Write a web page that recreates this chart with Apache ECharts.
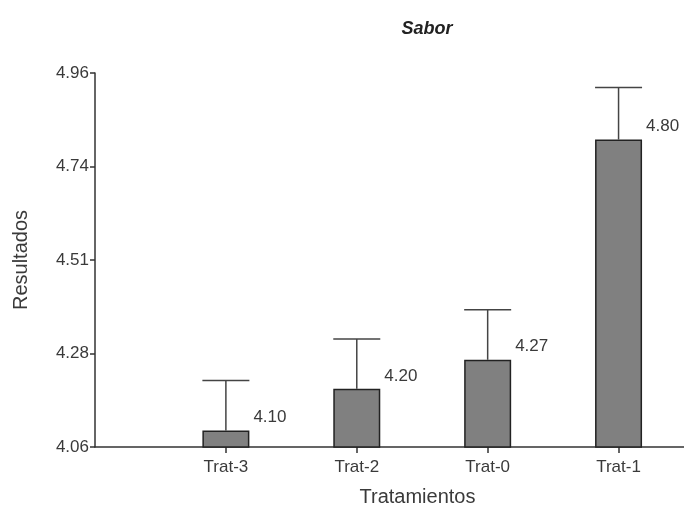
<!DOCTYPE html>
<html>
<head>
<meta charset="utf-8">
<script src="https://cdn.jsdelivr.net/npm/echarts@6/dist/echarts.min.js"></script>
<style>
  html, body { margin: 0; padding: 0; background: #fff; }
  #chart { width: 684px; height: 506px; }
</style>
</head>
<body>
<div id="chart"></div>
<script>
// Mean "Sabor" score per treatment, with the error-bar half-length above each bar
const categories = ['Trat-3', 'Trat-2', 'Trat-0', 'Trat-1'];
const means = [4.10, 4.20, 4.27, 4.80];
const errors = [0.12, 0.12, 0.12, 0.125];
const yTickValues = [4.06, 4.285, 4.51, 4.735, 4.96];
const yTickLabels = ['4.06', '4.28', '4.51', '4.74', '4.96'];

const FONT = '"Liberation Sans", Arial, sans-serif';
const TEXT = '#3a3a3a';
const BAR_W = 47;

const chart = echarts.init(document.getElementById('chart'), null, { renderer: 'canvas' });

const barData = means.map((v, i) => [i, v]);
const errData = means.map((v, i) => [i, v, v + errors[i]]);

chart.setOption({
  animation: false,
  title: {
    text: 'Sabor',
    left: 422, top: 15,
    textAlign: 'center',
    textStyle: { fontFamily: FONT, fontSize: 18, fontWeight: 'bold', fontStyle: 'italic', color: '#222' }
  },
  grid: { left: 95, right: 0, top: 73, bottom: 59, containLabel: false, outerBoundsMode: 'none' },
  xAxis: {
    type: 'value',
    min: -1, max: 3.5,
    name: 'Tratamientos',
    nameLocation: 'middle',
    nameGap: 40,
    nameTextStyle: { fontFamily: FONT, fontSize: 20, color: TEXT, padding: [0, 0, 0, 56] },
    splitLine: { show: false },
    axisLine: { show: true, onZero: false, lineStyle: { color: '#333', width: 1.5 } },
    axisTick: { show: true, customValues: [0, 1, 2, 3], length: 6, lineStyle: { color: '#333', width: 1.5 } },
    axisLabel: {
      customValues: [0, 1, 2, 3],
      formatter: v => categories[Math.round(v)] || '',
      margin: 12,
      fontFamily: FONT, fontSize: 17, color: TEXT
    }
  },
  yAxis: {
    type: 'value',
    min: 4.06, max: 4.96,
    name: 'Resultados',
    nameLocation: 'middle',
    nameGap: 64,
    nameRotate: 90,
    nameTextStyle: { fontFamily: FONT, fontSize: 20, color: TEXT },
    splitLine: { show: false },
    axisLine: { show: true, onZero: false, lineStyle: { color: '#333', width: 1.5 } },
    axisTick: { show: true, customValues: yTickValues, length: 5, lineStyle: { color: '#333', width: 1.5 } },
    axisLabel: {
      customValues: yTickValues,
      formatter: v => {
        const k = yTickValues.findIndex(t => Math.abs(t - v) < 1e-6);
        return k >= 0 ? yTickLabels[k] : '';
      },
      margin: 6,
      fontFamily: FONT, fontSize: 17, color: TEXT
    }
  },
  series: [
    {
      type: 'custom',
      z: 1,
      data: errData,
      renderItem: (params, api) => {
        const x = api.value(0);
        const base = api.coord([x, api.value(1)]);
        const top = api.coord([x, api.value(2)]);
        const half = BAR_W / 2;
        const style = { stroke: '#444', lineWidth: 1.5 };
        return {
          type: 'group',
          children: [
            { type: 'line', shape: { x1: base[0], y1: base[1], x2: top[0], y2: top[1] }, style },
            { type: 'line', shape: { x1: top[0] - half, y1: top[1], x2: top[0] + half, y2: top[1] }, style }
          ]
        };
      }
    },
    {
      type: 'bar',
      z: 2,
      data: barData,
      barWidth: BAR_W,
      itemStyle: { color: '#808080', borderColor: '#222', borderWidth: 1.5 },
      label: {
        show: true,
        position: ['100%', 0],
        align: 'left',
        verticalAlign: 'middle',
        offset: [4, -13],
        formatter: p => p.value[1].toFixed(2),
        fontFamily: FONT, fontSize: 17, color: TEXT
      }
    }
  ]
});
</script>
</body>
</html>
